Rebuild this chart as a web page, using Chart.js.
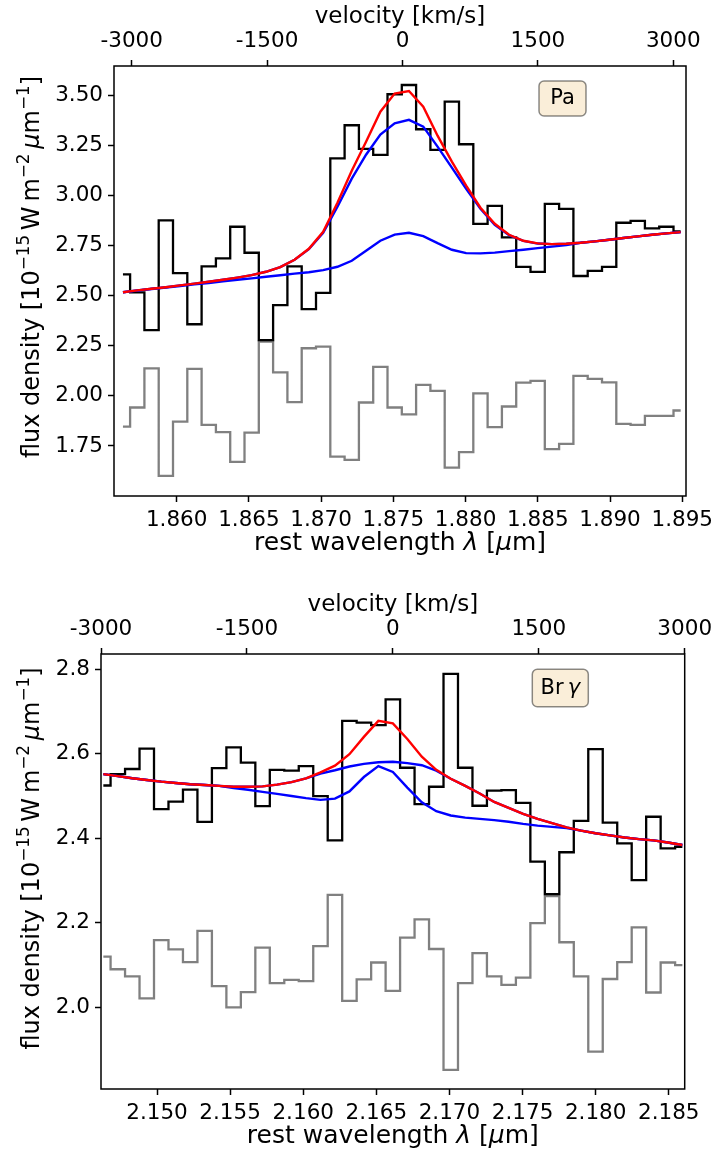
<!DOCTYPE html>
<html>
<head>
<meta charset="utf-8">
<title>Pa and Br gamma line fits</title>
<script src="https://cdn.jsdelivr.net/npm/chart.js@4.4.1/dist/chart.umd.min.js"></script>
<style>
  html, body { margin: 0; padding: 0; background: #fff; }
  #wrap { position: relative; width: 718px; height: 1160px; }
  canvas { position: absolute; left: 0; }
</style>
</head>
<body>
<div id="wrap">
  <canvas id="paChart" width="718" height="580" style="top:0"></canvas>
  <canvas id="brgChart" width="718" height="580" style="top:580px"></canvas>
</div>
<script>
// ---- Pa window: rest wavelength [um], flux density [1e-15 W m-2 um-1]
var paWave = [1.85628, 1.85727, 1.85826, 1.85925, 1.86024, 1.86123, 1.86222, 1.86321, 1.86420, 1.86519,
              1.86618, 1.86717, 1.86816, 1.86915, 1.87014, 1.87113, 1.87212, 1.87311, 1.87410, 1.87509,
              1.87608, 1.87707, 1.87806, 1.87905, 1.88004, 1.88103, 1.88202, 1.88301, 1.88400, 1.88499,
              1.88598, 1.88697, 1.88796, 1.88895, 1.88994, 1.89093, 1.89192, 1.89291, 1.89390, 1.89489];
var paFlux = [2.607, 2.517, 2.329, 2.877, 2.613, 2.358, 2.647, 2.687, 2.845, 2.715,
              2.279, 2.453, 2.647, 2.434, 2.515, 3.187, 3.352, 3.234, 3.204, 3.507,
              3.553, 3.332, 3.229, 3.470, 3.257, 2.859, 2.949, 2.792, 2.645, 2.620,
              2.959, 2.934, 2.599, 2.625, 2.645, 2.865, 2.874, 2.837, 2.845, 2.822];
// residuals, shifted down for display
var paResid = [1.847, 1.942, 2.138, 1.601, 1.872, 2.135, 1.855, 1.819, 1.670, 1.817,
               2.271, 2.118, 1.969, 2.238, 2.246, 1.697, 1.680, 1.967, 2.145, 1.942,
               1.908, 2.055, 2.025, 1.642, 1.719, 2.013, 1.844, 1.947, 2.066, 2.075,
               1.734, 1.760, 2.100, 2.085, 2.068, 1.860, 1.855, 1.900, 1.900, 1.927];
var paTotal = [2.518, 2.527, 2.535, 2.543, 2.552, 2.561, 2.570, 2.580, 2.591, 2.603,
               2.620, 2.643, 2.680, 2.735, 2.820, 2.965, 3.125, 3.270, 3.420, 3.510,
               3.523, 3.445, 3.300, 3.170, 3.050, 2.940, 2.860, 2.805, 2.775, 2.762,
               2.758, 2.760, 2.765, 2.772, 2.780, 2.789, 2.797, 2.805, 2.812, 2.818];
var paBroad = [2.518, 2.527, 2.535, 2.543, 2.552, 2.561, 2.570, 2.580, 2.591, 2.603,
               2.620, 2.643, 2.680, 2.733, 2.815, 2.945, 3.085, 3.205, 3.305, 3.362,
               3.379, 3.345, 3.245, 3.140, 3.035, 2.935, 2.855, 2.803, 2.774, 2.761,
               2.758, 2.760, 2.765, 2.772, 2.780, 2.789, 2.797, 2.805, 2.812, 2.818];
var paNarrow = [2.518, 2.526, 2.534, 2.541, 2.549, 2.557, 2.564, 2.572, 2.580, 2.587,
                2.595, 2.603, 2.611, 2.618, 2.628, 2.645, 2.675, 2.725, 2.775, 2.806,
                2.815, 2.798, 2.763, 2.730, 2.713, 2.712, 2.716, 2.723, 2.730, 2.738,
                2.746, 2.753, 2.765, 2.772, 2.780, 2.789, 2.797, 2.805, 2.812, 2.818];

// ---- Br gamma window
var brgWave = [2.14633, 2.14732, 2.14831, 2.14930, 2.15029, 2.15128, 2.15227, 2.15326, 2.15425, 2.15524,
               2.15623, 2.15722, 2.15821, 2.15920, 2.16019, 2.16118, 2.16217, 2.16316, 2.16415, 2.16514,
               2.16613, 2.16712, 2.16811, 2.16910, 2.17009, 2.17108, 2.17207, 2.17306, 2.17405, 2.17504,
               2.17603, 2.17702, 2.17801, 2.17900, 2.17999, 2.18098, 2.18197, 2.18296, 2.18395, 2.18494,
               2.18593];
var brgFlux = [2.525, 2.552, 2.564, 2.612, 2.469, 2.487, 2.515, 2.439, 2.566, 2.615,
               2.579, 2.476, 2.562, 2.560, 2.571, 2.500, 2.395, 2.678, 2.674, 2.668,
               2.729, 2.567, 2.481, 2.522, 2.789, 2.567, 2.477, 2.513, 2.514, 2.484,
               2.345, 2.268, 2.367, 2.441, 2.611, 2.437, 2.388, 2.301, 2.451, 2.376,
               2.380];
var brgResid = [2.120, 2.090, 2.073, 2.021, 2.159, 2.137, 2.107, 2.181, 2.050, 2.000,
                2.036, 2.141, 2.057, 2.065, 2.062, 2.145, 2.266, 2.015, 2.066, 2.106,
                2.039, 2.165, 2.208, 2.138, 1.852, 2.057, 2.128, 2.073, 2.053, 2.070,
                2.199, 2.263, 2.154, 2.073, 1.895, 2.067, 2.107, 2.189, 2.035, 2.106,
                2.100];
var brgTotal = [2.552, 2.547, 2.542, 2.538, 2.534, 2.531, 2.528, 2.526, 2.524, 2.522,
                2.522, 2.523, 2.527, 2.533, 2.542, 2.556, 2.572, 2.599, 2.640, 2.678,
                2.672, 2.635, 2.593, 2.562, 2.541, 2.524, 2.506, 2.486, 2.472, 2.458,
                2.446, 2.436, 2.426, 2.418, 2.412, 2.407, 2.402, 2.398, 2.395, 2.390,
                2.384];
var brgBroad = [2.552, 2.547, 2.542, 2.538, 2.534, 2.531, 2.528, 2.526, 2.524, 2.522,
                2.522, 2.523, 2.527, 2.533, 2.542, 2.553, 2.561, 2.570, 2.576, 2.580,
                2.581, 2.578, 2.573, 2.560, 2.541, 2.524, 2.506, 2.486, 2.472, 2.458,
                2.446, 2.436, 2.426, 2.418, 2.412, 2.407, 2.402, 2.398, 2.395, 2.390,
                2.384];
var brgNarrow = [2.552, 2.547, 2.542, 2.538, 2.534, 2.531, 2.528, 2.526, 2.524, 2.519,
                 2.515, 2.510, 2.505, 2.500, 2.495, 2.491, 2.494, 2.511, 2.545, 2.571,
                 2.557, 2.520, 2.485, 2.464, 2.454, 2.449, 2.446, 2.443, 2.439, 2.434,
                 2.430, 2.427, 2.424, 2.418, 2.412, 2.407, 2.402, 2.398, 2.395, 2.390,
                 2.384];

// ---- tick labels
var velTicks = [-3000, -1500, 0, 1500, 3000];
var paWaveTicks = [1.860, 1.865, 1.870, 1.875, 1.880, 1.885, 1.890, 1.895];
var paFluxTicks = [1.75, 2.00, 2.25, 2.50, 2.75, 3.00, 3.25, 3.50];
var brgWaveTicks = [2.150, 2.155, 2.160, 2.165, 2.170, 2.175, 2.180, 2.185];
var brgFluxTicks = [2.0, 2.2, 2.4, 2.6, 2.8];

var FONT = "'DejaVu Sans', sans-serif";

// axis titles as runs of [text, style]; style n = normal, i = italic, s = superscript
var velTitle = [['velocity [km/s]', 'n']];
var waveTitle = [['rest wavelength ', 'n'], ['\u03bb', 'i'], [' [', 'n'], ['\u03bc', 'i'], ['m]', 'n']];
var fluxTitle = [['flux density [10', 'n'], ['\u221215', 's'], ['\u2009W\u2009m', 'n'], ['\u22122', 's'],
                 ['\u2009', 'n'], ['\u03bc', 'i'], ['m', 'n'], ['\u22121', 's'], [']', 'n']];

function pts(xs, ys) {
    return xs.map(function (x, i) { return {x: x, y: ys[i]}; });
}

function runFont(r, size) {
    var s = r[1] === 's' ? size * 0.7 : size;
    return (r[1] === 'i' ? 'italic ' : '') + s + 'px ' + FONT;
}

function drawRuns(ctx, runs, size, x, y, angle) {
    ctx.save();
    ctx.translate(x, y);
    ctx.rotate(angle);
    ctx.fillStyle = '#000';
    ctx.textBaseline = 'alphabetic';
    ctx.textAlign = 'left';
    var total = 0;
    runs.forEach(function (r) { ctx.font = runFont(r, size); total += ctx.measureText(r[0]).width; });
    var pos = -total / 2;
    runs.forEach(function (r) {
        ctx.font = runFont(r, size);
        ctx.fillText(r[0], pos, r[1] === 's' ? -size * 0.4 : 0);
        pos += ctx.measureText(r[0]).width;
    });
    ctx.restore();
}

function roundBox(ctx, x, y, w, h, r) {
    ctx.beginPath();
    ctx.moveTo(x + r, y);
    ctx.arcTo(x + w, y, x + w, y + h, r);
    ctx.arcTo(x + w, y + h, x, y + h, r);
    ctx.arcTo(x, y + h, x, y, r);
    ctx.arcTo(x, y, x + w, y, r);
    ctx.closePath();
}

// frame, axis titles and the line label box
var panelDecor = {
    id: 'panelDecor',
    afterDraw: function (chart, args, opts) {
        var ctx = chart.ctx, a = chart.chartArea;
        ctx.save();
        ctx.strokeStyle = '#000';
        ctx.lineWidth = 1.5;
        ctx.strokeRect(a.left, a.top, a.right - a.left, a.bottom - a.top);
        ctx.restore();

        var cx = (a.left + a.right) / 2, cy = (a.top + a.bottom) / 2;
        drawRuns(ctx, velTitle, opts.velSize, cx, opts.velBase, 0);
        drawRuns(ctx, waveTitle, opts.waveSize, cx, opts.waveBase, 0);
        drawRuns(ctx, fluxTitle, opts.fluxSize, opts.fluxBase, cy + opts.fluxShift, -Math.PI / 2);

        var b = opts.box;
        ctx.save();
        roundBox(ctx, b.cx - b.w / 2, b.cy - b.h / 2, b.w, b.h, 5);
        ctx.fillStyle = 'rgba(245, 222, 179, 0.5)';
        ctx.fill();
        ctx.strokeStyle = 'rgba(0, 0, 0, 0.45)';
        ctx.lineWidth = 1.5;
        ctx.stroke();
        ctx.restore();
        drawRuns(ctx, b.text, b.size, b.cx, b.cy + 5.5, 0);
    }
};

function fixSize(prop, size) {
    return function (scale) {
        scale[prop] = size;
        scale.paddingLeft = scale.paddingRight = scale.paddingTop = scale.paddingBottom = 0;
    };
}

function setTicks(values) {
    return function (scale) {
        scale.ticks = values.map(function (v) { return {value: v}; });
    };
}

function line(xs, ys, color, width, stepped) {
    return {
        data: pts(xs, ys),
        borderColor: color,
        borderWidth: width,
        stepped: stepped,
        pointRadius: 0,
        fill: false,
        tension: 0,
        xAxisID: 'x',
        yAxisID: 'y'
    };
}

var tickGrid = {
    drawOnChartArea: false,
    drawTicks: true,
    tickLength: 6,
    tickColor: '#000',
    tickWidth: 1.5
};

function tickFont() {
    return {family: FONT, size: 21.5};
}

function makeChart(id, cfg) {
    return new Chart(document.getElementById(id), {
        type: 'line',
        data: {
            datasets: [
                line(cfg.wave, cfg.total, '#ff0000', 2.4, false),
                line(cfg.wave, cfg.broad, '#0000ff', 2.4, false),
                line(cfg.wave, cfg.narrow, '#0000ff', 2.4, false),
                line(cfg.wave, cfg.flux, '#000000', 2.3, 'middle'),
                line(cfg.wave, cfg.resid, '#808080', 2.3, 'middle')
            ]
        },
        options: {
            responsive: false,
            animation: false,
            devicePixelRatio: 1,
            events: [],
            layout: {padding: {left: 0, top: 0, right: cfg.padRight, bottom: 0}},
            plugins: {
                legend: {display: false},
                tooltip: {enabled: false},
                panelDecor: cfg.decor
            },
            scales: {
                x: {
                    type: 'linear', position: 'bottom', min: cfg.xMin, max: cfg.xMax,
                    afterBuildTicks: setTicks(cfg.waveTicks),
                    afterFit: fixSize('height', cfg.bottomH),
                    grid: tickGrid, border: {display: false},
                    ticks: {font: tickFont(), color: '#000', padding: 6, autoSkip: false, maxRotation: 0,
                            callback: function (v) { return v.toFixed(3); }}
                },
                v: {
                    axis: 'x', type: 'linear', position: 'top', min: cfg.vMin, max: cfg.vMax,
                    afterBuildTicks: setTicks(velTicks),
                    afterFit: fixSize('height', cfg.topH),
                    grid: tickGrid, border: {display: false},
                    ticks: {font: tickFont(), color: '#000', padding: 6, autoSkip: false, maxRotation: 0,
                            callback: function (v) { return String(v); }}
                },
                y: {
                    type: 'linear', position: 'left', min: cfg.yMin, max: cfg.yMax,
                    afterBuildTicks: setTicks(cfg.fluxTicks),
                    afterFit: fixSize('width', cfg.leftW),
                    grid: tickGrid, border: {display: false},
                    ticks: {font: tickFont(), color: '#000', padding: 5,
                            callback: function (v) { return v.toFixed(cfg.yDigits); }}
                }
            }
        },
        plugins: [panelDecor]
    });
}

makeChart('paChart', {
    wave: paWave, flux: paFlux, resid: paResid, total: paTotal, broad: paBroad, narrow: paNarrow,
    waveTicks: paWaveTicks, fluxTicks: paFluxTicks, yDigits: 2,
    xMin: 1.85566, xMax: 1.89526, yMin: 1.500, yMax: 3.648, vMin: -3196, vMax: 3141,
    leftW: 114, topH: 66, bottomH: 84, padRight: 32,
    decor: {
        velSize: 23, waveSize: 25, fluxSize: 24,
        velBase: 23, waveBase: 550, fluxBase: 39, fluxShift: -14,
        box: {text: [['Pa', 'n']], size: 21, cx: 562.5, cy: 98.5, w: 47, h: 35}
    }
});

makeChart('brgChart', {
    wave: brgWave, flux: brgFlux, resid: brgResid, total: brgTotal, broad: brgBroad, narrow: brgNarrow,
    waveTicks: brgWaveTicks, fluxTicks: brgFluxTicks, yDigits: 1,
    xMin: 2.14617, xMax: 2.18609, yMin: 1.8066, yMax: 2.8362, vMin: -3000, vMax: 3000,
    leftW: 101, topH: 74, bottomH: 71, padRight: 33.3,
    decor: {
        velSize: 23, waveSize: 25, fluxSize: 24,
        velBase: 31, waveBase: 563, fluxBase: 39, fluxShift: -13,
        box: {text: [['Br\u2009', 'n'], ['\u03b3', 'i']], size: 21, cx: 560.3, cy: 108, w: 56, h: 37.5}
    }
});
</script>
</body>
</html>
